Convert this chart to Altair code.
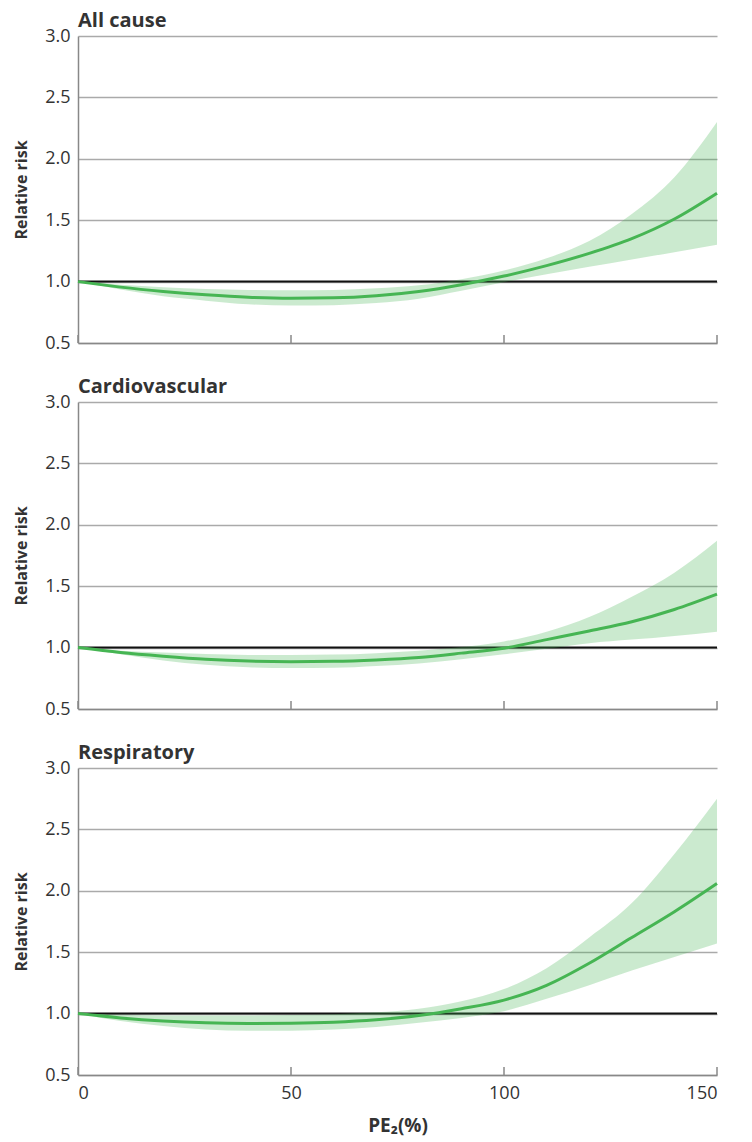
import altair as alt
import pandas as pd

# ---- data ----
PE2 = [0, 10, 20, 30, 40, 50, 60, 70, 80, 90, 100, 110, 120, 130, 140, 150]

PANELS = ["All cause", "Cardiovascular", "Respiratory"]

ALL_RR = [1.0, 0.955, 0.92, 0.893, 0.873, 0.865, 0.868, 0.885, 0.92, 0.975, 1.045, 1.13, 1.23, 1.35, 1.51, 1.72]
ALL_LO = [1.0, 0.935, 0.88, 0.845, 0.815, 0.805, 0.808, 0.825, 0.86, 0.925, 0.995, 1.06, 1.12, 1.18, 1.24, 1.30]
ALL_HI = [1.0, 0.975, 0.955, 0.94, 0.932, 0.93, 0.932, 0.945, 0.97, 1.02, 1.09, 1.19, 1.33, 1.55, 1.85, 2.30]

CVD_RR = [1.0, 0.96, 0.93, 0.905, 0.89, 0.885, 0.888, 0.9, 0.92, 0.955, 0.995, 1.065, 1.135, 1.21, 1.31, 1.435]
CVD_LO = [1.0, 0.945, 0.895, 0.86, 0.84, 0.833, 0.835, 0.85, 0.87, 0.905, 0.945, 0.99, 1.036, 1.065, 1.095, 1.13]
CVD_HI = [1.0, 0.975, 0.96, 0.947, 0.94, 0.94, 0.943, 0.955, 0.975, 1.005, 1.05, 1.13, 1.25, 1.415, 1.61, 1.87]

RES_RR = [1.0, 0.965, 0.94, 0.925, 0.92, 0.922, 0.93, 0.95, 0.985, 1.04, 1.11, 1.23, 1.41, 1.62, 1.83, 2.06]
RES_LO = [1.0, 0.94, 0.9, 0.87, 0.86, 0.86, 0.87, 0.89, 0.925, 0.965, 1.02, 1.12, 1.23, 1.35, 1.46, 1.57]
RES_HI = [1.0, 0.99, 0.985, 0.985, 0.985, 0.988, 0.995, 1.01, 1.04, 1.1, 1.2, 1.37, 1.62, 1.9, 2.3, 2.75]

X_TICKS = [0, 50, 100, 150]
Y_TICKS = [0.5, 1.0, 1.5, 2.0, 2.5, 3.0]
REF = [1.0]

SERIES = {
    "All cause": (ALL_RR, ALL_LO, ALL_HI),
    "Cardiovascular": (CVD_RR, CVD_LO, CVD_HI),
    "Respiratory": (RES_RR, RES_LO, RES_HI),
}

FONT = "Open Sans"
GREEN = "#46b553"
GRID = "#aaaaaa"
AXIS = "#888888"
TEXT = "#333333"
W, H = 639, 307

tick_df = pd.DataFrame({"x": X_TICKS})
ref_df = pd.DataFrame({"y": REF})
YS = alt.Scale(domain=[0.5, 3.0], nice=False)
XS = alt.Scale(domain=[0, 150], nice=False)


def panel(name, last):
    rr, lo, hi = SERIES[name]
    df = pd.DataFrame({"x": PE2, "rr": rr, "lo": lo, "hi": hi})
    xaxis = alt.Axis(
        values=X_TICKS, labels=last, ticks=False, grid=False,
        domainColor=AXIS, domainWidth=1.5,
        title="PE₂(%)" if last else None,
        labelFontSize=18, labelColor=TEXT, labelPadding=9,
        titleFontSize=19, titleFontWeight="bold", titleColor=TEXT, titlePadding=14,
    )
    x = alt.X("x:Q", scale=XS, axis=xaxis)
    yaxis = alt.Axis(
        values=Y_TICKS, format=".1f", ticks=False, grid=True, gridColor=GRID, gridWidth=1.5,
        domainColor=AXIS, domainWidth=1.5, title="Relative risk",
        labelFontSize=18, labelColor=TEXT, labelPadding=8,
        titleFontSize=16, titleFontWeight="bold", titleColor=TEXT, titlePadding=15,
    )
    y = alt.Y("rr:Q", scale=YS, axis=yaxis)

    ref = alt.Chart(ref_df).mark_rule(color="#111111", strokeWidth=2).encode(
        y=alt.Y("y:Q", scale=YS)
    )
    band = alt.Chart(df).mark_area(color=GREEN, opacity=0.28, interpolate="monotone").encode(
        x=x, y=alt.Y("lo:Q", scale=YS), y2="hi:Q"
    )
    line = alt.Chart(df).mark_line(color=GREEN, strokeWidth=3, interpolate="monotone").encode(x=x, y=y)
    ticks = alt.Chart(tick_df).mark_rule(color=AXIS, strokeWidth=1.5).encode(
        x=alt.X("x:Q", scale=XS),
        y=alt.value(H - 8), y2=alt.value(H),
    )
    return alt.layer(ref, band, line, ticks).properties(
        width=W, height=H,
        title=alt.TitleParams(name, anchor="start", frame="group", fontSize=20, fontWeight="bold",
                              color=TEXT, offset=-4, font=FONT),
    )


chart = alt.vconcat(
    panel("All cause", False), panel("Cardiovascular", False), panel("Respiratory", True),
    spacing=25,
).properties(
    padding={"left": 5, "top": 3, "right": 0, "bottom": 5}
).configure(font=FONT).configure_view(stroke=None).configure_axis(
    labelFont=FONT, titleFont=FONT
)

chart.save("out.html", embed_options={"renderer": "svg", "actions": False})
